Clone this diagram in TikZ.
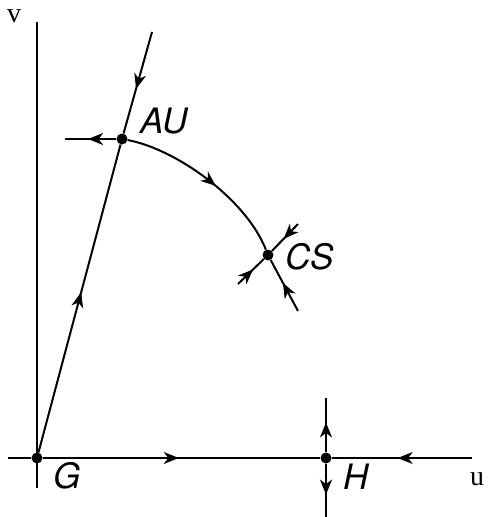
\documentclass[tikz,border=0pt]{standalone}
\usepackage{fontspec}
\setmainfont{Liberation Serif}
\newfontfamily\cimkefont{TeX Gyre Heros}
\usetikzlibrary{arrows.meta,decorations.markings}
\tikzset{
  vonal/.style={line width=2pt},
  pont/.style={circle,fill,inner sep=0pt,minimum size=11pt},
  kozep/.style={postaction={decorate},
                decoration={markings,mark=at position #1 with {\arrow{Stealth[length=15pt,width=12pt,inset=4.5pt]}}}},
  cimke/.style={font=\cimkefont\itshape\fontsize{35}{40}\selectfont,inner sep=0pt},
  tengely/.style={font=\fontsize{28}{32}\selectfont,inner sep=0pt},
}

\begin{document}
\begin{tikzpicture}[x=1pt,y=-1pt]
  \useasboundingbox (0,0) rectangle (489,517);
  % fixpontok
  \node[pont] (G) at (37,458) {};
  \node[pont] (H) at (326,458) {};
  \node[pont] (AU) at (122,139) {};
  \node[pont] (CS) at (268,255) {};
  % vegpontok
  \coordinate (vfent) at (37,22);
  \coordinate (vlent) at (37,488);
  \coordinate (ubal) at (8,458);
  \coordinate (ujobb) at (472,458);
  \coordinate (hfent) at (326,398);
  \coordinate (hlent) at (326,517);
  \coordinate (aufent) at (152,32);
  \coordinate (aubal) at (65,139);
  \coordinate (cslent) at (298,311);
  \coordinate (csbal) at (238,284);
  \coordinate (csjobb) at (298,224);
  % tengelyek
  \draw[vonal] (vfent) -- (vlent);
  \draw[vonal] (ubal) -- (G);
  \draw[vonal,kozep=0.49] (G) -- (H);
  \draw[vonal,kozep=0.53] (ujobb) -- (H);
  \draw[vonal,kozep=0.55] (H) -- (hfent);
  \draw[vonal,kozep=0.58] (H) -- (hlent);
  % AU
  \draw[vonal,kozep=0.52] (G) -- (AU);
  \draw[vonal,kozep=0.56] (aufent) -- (AU);
  \draw[vonal,kozep=0.55] (AU) -- (aubal);
  \draw[vonal,kozep=0.55] (AU) .. controls (176,149) and (246,199) .. (CS);
  % CS
  \draw[vonal,kozep=0.55] (cslent) -- (CS);
  \draw[vonal,kozep=0.58] (csbal) -- (CS);
  \draw[vonal,kozep=0.55] (csjobb) -- (CS);
  % feliratok
  \node[cimke] (lAU) at (164,121) {AU};
  \node[cimke] (lCS) at (310,257) {CS};
  \node[cimke] (lG) at (67,476) {G};
  \node[cimke] (lH) at (356,477) {H};
  \node[tengely] (lv) at (14,16) {v};
  \node[tengely] (lu) at (477,479) {u};
\end{tikzpicture}
\end{document}
